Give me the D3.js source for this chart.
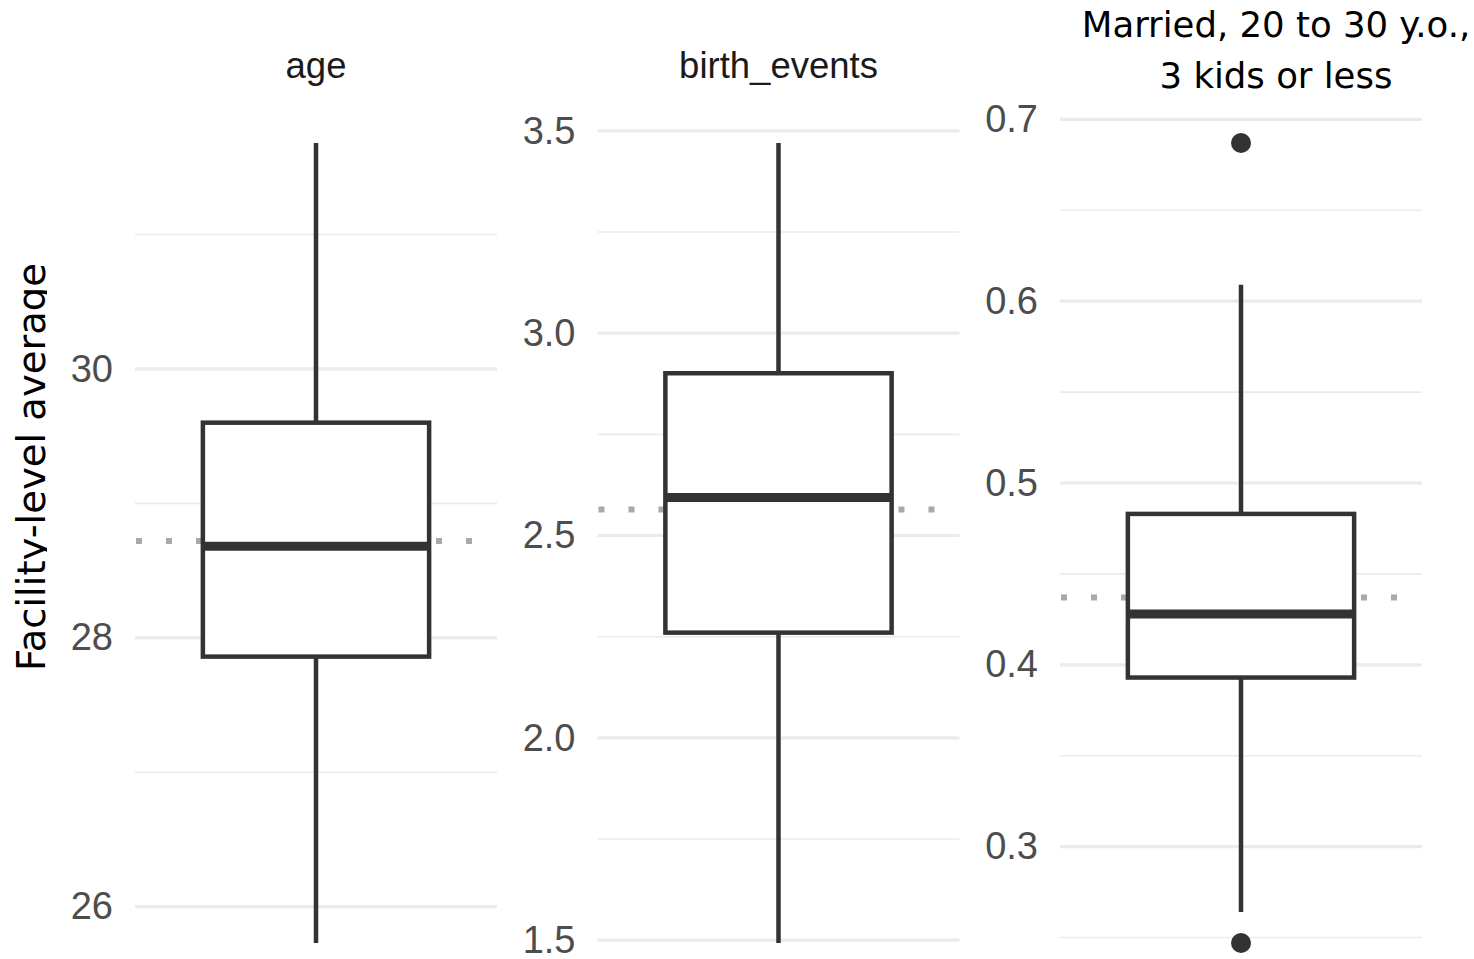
<!DOCTYPE html>
<html>
<head>
<meta charset="utf-8">
<script src="https://cdn.jsdelivr.net/npm/d3@7"></script>
<style>
  html, body { margin: 0; padding: 0; background: #ffffff; }
  svg { display: block; }
</style>
</head>
<body>
<svg id="chart" width="1474" height="959"></svg>
<script>
// Facility-level averages, one boxplot per variable (free y scales)
const facetKeys = ["age", "birth_events", "married"];
const facetTitles = [["age"], ["birth_events"], ["Married, 20 to 30 y.o.,", "3 kids or less"]];

const whiskerLow  = [25.73, 1.493, 0.264];
const quartile1   = [27.86, 2.260, 0.393];
const medians     = [28.68, 2.594, 0.428];
const quartile3   = [29.60, 2.901, 0.483];
const whiskerHigh = [31.68, 3.470, 0.609];
const means       = [28.72, 2.564, 0.437];
const outliers    = [[], [], [0.687, 0.247]];

const majorTicks = [[26, 28, 30], [1.5, 2.0, 2.5, 3.0, 3.5], [0.3, 0.4, 0.5, 0.6, 0.7]];
const tickLabels = [["26", "28", "30"], ["1.5", "2.0", "2.5", "3.0", "3.5"], ["0.3", "0.4", "0.5", "0.6", "0.7"]];
const minorTicks = [[27, 29, 31], [1.75, 2.25, 2.75, 3.25], [0.25, 0.35, 0.45, 0.55, 0.65]];

const yLabel = "Facility-level average";

const svg = d3.select("#chart");
const panelTop = 103, panelBottom = 983;

const fx = d3.scaleBand().domain(facetKeys).range([135, 1422]).paddingInner(0.2173).paddingOuter(0);
const bw = fx.bandwidth();
const x = d3.scaleLinear().domain([0.4, 1.6]).range([0, bw]);

// clip for the y title (its descenders are trimmed on the right)
svg.append("defs").append("clipPath").attr("id", "ytitle-clip")
  .append("rect").attr("x", 0).attr("y", 0).attr("width", 47).attr("height", 959);

facetKeys.forEach((key, i) => {
  const lo = Math.min(whiskerLow[i], ...outliers[i]);
  const hi = Math.max(whiskerHigh[i], ...outliers[i]);
  const pad = (hi - lo) * 0.05;
  const y = d3.scaleLinear().domain([lo - pad, hi + pad]).range([panelBottom, panelTop]);

  const g = svg.append("g").attr("transform", `translate(${fx(key)},0)`);

  // grid
  g.selectAll("line.minor").data(minorTicks[i]).join("line")
    .attr("class", "minor")
    .attr("x1", 0).attr("x2", bw)
    .attr("y1", d => y(d)).attr("y2", d => y(d))
    .attr("stroke", "#ebebeb").attr("stroke-width", 1.6);
  g.selectAll("line.major").data(majorTicks[i]).join("line")
    .attr("class", "major")
    .attr("x1", 0).attr("x2", bw)
    .attr("y1", d => y(d)).attr("y2", d => y(d))
    .attr("stroke", "#ebebeb").attr("stroke-width", 3.2);

  // y axis labels
  const axis = d3.axisLeft(y).tickValues(majorTicks[i])
    .tickFormat((d, j) => tickLabels[i][j]).tickSize(0).tickPadding(22);
  const ag = g.append("g").call(axis);
  ag.select(".domain").remove();
  ag.selectAll("text")
    .attr("font-family", "'Liberation Sans', Arial, sans-serif")
    .attr("font-size", 38).attr("fill", "#4d4d4d");

  // mean reference line (dotted)
  g.append("line")
    .attr("x1", 1).attr("x2", bw - 22)
    .attr("y1", y(means[i])).attr("y2", y(means[i]))
    .attr("stroke", "#a9a9a9").attr("stroke-width", 6)
    .attr("stroke-dasharray", "6 24");

  const cx = x(1);
  // whiskers
  g.append("line").attr("x1", cx).attr("x2", cx)
    .attr("y1", y(quartile3[i])).attr("y2", y(whiskerHigh[i]))
    .attr("stroke", "#333333").attr("stroke-width", 4.5);
  g.append("line").attr("x1", cx).attr("x2", cx)
    .attr("y1", y(quartile1[i])).attr("y2", y(whiskerLow[i]))
    .attr("stroke", "#333333").attr("stroke-width", 4.5);

  // box
  g.append("rect")
    .attr("x", x(0.625)).attr("width", x(1.375) - x(0.625))
    .attr("y", y(quartile3[i])).attr("height", y(quartile1[i]) - y(quartile3[i]))
    .attr("fill", "#ffffff").attr("stroke", "#333333").attr("stroke-width", 4.5);

  // median
  g.append("line")
    .attr("x1", x(0.625)).attr("x2", x(1.375))
    .attr("y1", y(medians[i])).attr("y2", y(medians[i]))
    .attr("stroke", "#333333").attr("stroke-width", 9);

  // outliers
  g.selectAll("circle.out").data(outliers[i]).join("circle")
    .attr("class", "out")
    .attr("cx", cx).attr("cy", d => y(d)).attr("r", 10)
    .attr("fill", "#333333");
});

// strip titles
svg.append("text").text(facetTitles[0][0])
  .attr("x", fx("age") + bw / 2).attr("y", 78)
  .attr("text-anchor", "middle")
  .attr("font-family", "'Liberation Sans', Arial, sans-serif")
  .attr("font-size", 36.5).attr("fill", "#1a1a1a");
svg.append("text").text(facetTitles[1][0])
  .attr("x", fx("birth_events") + bw / 2).attr("y", 78)
  .attr("text-anchor", "middle")
  .attr("font-family", "'Liberation Sans', Arial, sans-serif")
  .attr("font-size", 36.5).attr("fill", "#1a1a1a");
const t3 = svg.append("text")
  .attr("text-anchor", "middle")
  .attr("font-family", "'DejaVu Sans', sans-serif")
  .attr("font-size", 35.5).attr("fill", "#000000");
facetTitles[2].forEach((line, k) => {
  t3.append("tspan").text(line)
    .attr("x", fx("married") + bw / 2 + 35)
    .attr("y", 37 + k * 51);
});

// y title
svg.append("g").attr("clip-path", "url(#ytitle-clip)")
  .append("text").text(yLabel)
  .attr("transform", "translate(45,467) rotate(-90)")
  .attr("text-anchor", "middle")
  .attr("font-family", "'DejaVu Sans', sans-serif")
  .attr("font-size", 38.5).attr("fill", "#000000");
</script>
</body>
</html>
